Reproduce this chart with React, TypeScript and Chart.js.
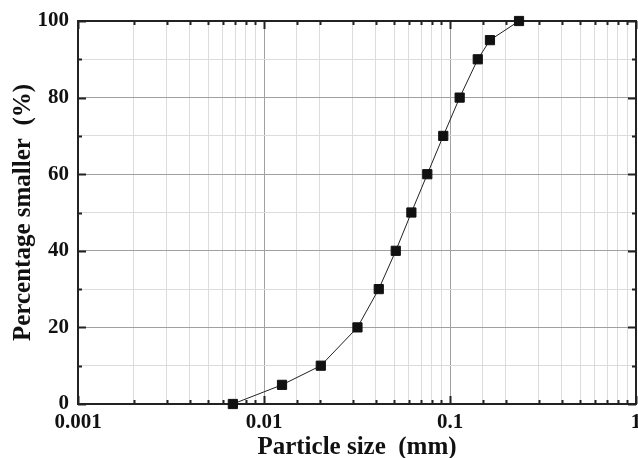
import { useEffect, useRef } from 'react';
import { Chart, registerables } from 'chart.js';

Chart.register(...registerables);

const particleSize = [0.0068, 0.0125, 0.0202, 0.0318, 0.0414, 0.0511, 0.062, 0.0755, 0.092, 0.1127, 0.141, 0.164, 0.235];
const percentSmaller = [0, 5, 10, 20, 30, 40, 50, 60, 70, 80, 90, 95, 100];
const xTickLabels = ['0.001', '0.01', '0.1', '1'];
const yTickLabels = ['0', '20', '40', '60', '80', '100'];
const xTitle = 'Particle size  (mm)';
const yTitle = 'Percentage smaller  (%)';

const FONT = "'Liberation Serif', 'Times New Roman', serif";
const MAJOR_GRID = '#a0a0a0';
const MINOR_GRID = '#dcdcdc';
const AXIS = '#222222';

const isDecade = (v: number) => {
  const lg = Math.log10(v);
  return Math.abs(lg - Math.round(lg)) < 1e-6;
};
const xLabelFor = (v: number) => {
  const found = xTickLabels.find((l) => Math.abs(Number(l) - v) / v < 1e-6);
  return found ?? '';
};
const yLabelFor = (v: number) => {
  const found = yTickLabels.find((l) => Number(l) === v);
  return found ?? '';
};
const noPadding = () => ({ left: 0, top: 0, right: 0, bottom: 0 });

const frameTicks = {
  id: 'frameTicks',
  beforeDatasetsDraw(chart: any) {
    const { ctx, chartArea } = chart;
    const { left, right, top, bottom } = chartArea;
    const xs = chart.scales.x;
    const ys = chart.scales.y;
    ctx.save();
    ctx.strokeStyle = AXIS;
    ctx.lineWidth = 2;
    ctx.beginPath();
    xs.ticks.forEach((t: any) => {
      const px = Math.round(xs.getPixelForValue(t.value)) + 0.5;
      const len = isDecade(t.value) ? 8 : 4;
      ctx.moveTo(px, bottom);
      ctx.lineTo(px, bottom - len);
      ctx.moveTo(px, top);
      ctx.lineTo(px, top + len);
    });
    ys.ticks.forEach((t: any) => {
      const py = Math.round(ys.getPixelForValue(t.value)) + 0.5;
      const len = yLabelFor(t.value) !== '' ? 8 : 4;
      ctx.moveTo(left, py);
      ctx.lineTo(left + len, py);
      ctx.moveTo(right, py);
      ctx.lineTo(right - len, py);
    });
    ctx.stroke();
    ctx.lineWidth = 2;
    ctx.strokeRect(left, top, right - left, bottom - top);
    ctx.restore();
  },
};

export default function App() {
  const ref = useRef<HTMLCanvasElement | null>(null);
  useEffect(() => {
    if (!ref.current) return;
    const chart = new Chart(ref.current, {
      type: 'line',
      data: {
        datasets: [
          {
            data: particleSize.map((x, i) => ({ x, y: percentSmaller[i] })),
            borderColor: '#222',
            borderWidth: 1,
            backgroundColor: '#111',
            pointStyle: 'rect',
            pointRadius: 6.5,
            pointBorderColor: '#111',
            pointBorderWidth: 1,
            pointBackgroundColor: '#111',
            clip: false as any,
            tension: 0,
          },
        ],
      },
      options: {
        responsive: false,
        animation: false,
        layout: { autoPadding: false, padding: { top: 21, right: 2, left: 0, bottom: 0 } },
        plugins: { legend: { display: false }, tooltip: { enabled: false } },
        scales: {
          x: {
            type: 'logarithmic',
            position: 'bottom',
            min: 0.001,
            max: 1,
            afterFit: (s: any) => {
              s.height = 54;
              s.paddingLeft = 0;
              s.paddingRight = 0;
              s.getPadding = noPadding;
            },
            border: { display: false },
            grid: {
              drawTicks: false,
              lineWidth: 1,
              color: (c: any) => (c.tick && isDecade(c.tick.value) ? MAJOR_GRID : MINOR_GRID),
            },
            ticks: {
              autoSkip: false,
              maxRotation: 0,
              padding: 6,
              color: '#111',
              font: { family: FONT, size: 21, weight: 'bold' },
              callback: (v: any) => xLabelFor(Number(v)),
            },
            title: {
              display: true,
              text: xTitle,
              color: '#111',
              padding: { top: 0, bottom: 0 },
              font: { family: FONT, size: 25, weight: 'bold', lineHeight: 0.8 },
            },
          },
          y: {
            type: 'linear',
            min: 0,
            max: 100,
            afterFit: (s: any) => {
              s.width = 78;
              s.paddingTop = 0;
              s.paddingBottom = 0;
              s.getPadding = noPadding;
            },
            border: { display: false },
            grid: {
              drawTicks: false,
              lineWidth: 1,
              color: (c: any) => (c.tick && yLabelFor(c.tick.value) !== '' ? MAJOR_GRID : MINOR_GRID),
            },
            ticks: {
              stepSize: 10,
              autoSkip: false,
              padding: 9,
              color: '#111',
              font: { family: FONT, size: 21, weight: 'bold' },
              callback: (v: any) => yLabelFor(Number(v)),
            },
            title: {
              display: true,
              text: yTitle,
              color: '#111',
              padding: { top: 14, bottom: 0 },
              font: { family: FONT, size: 25, weight: 'bold', lineHeight: 0.8 },
            },
          },
        },
      },
      plugins: [frameTicks],
    } as any);
    return () => chart.destroy();
  }, []);
  return (
    <div style={{ position: 'fixed', left: 0, top: 0, width: 638, height: 458, background: '#fff' }}>
      <canvas ref={ref} width={638} height={458} style={{ display: 'block' }} />
    </div>
  );
}
